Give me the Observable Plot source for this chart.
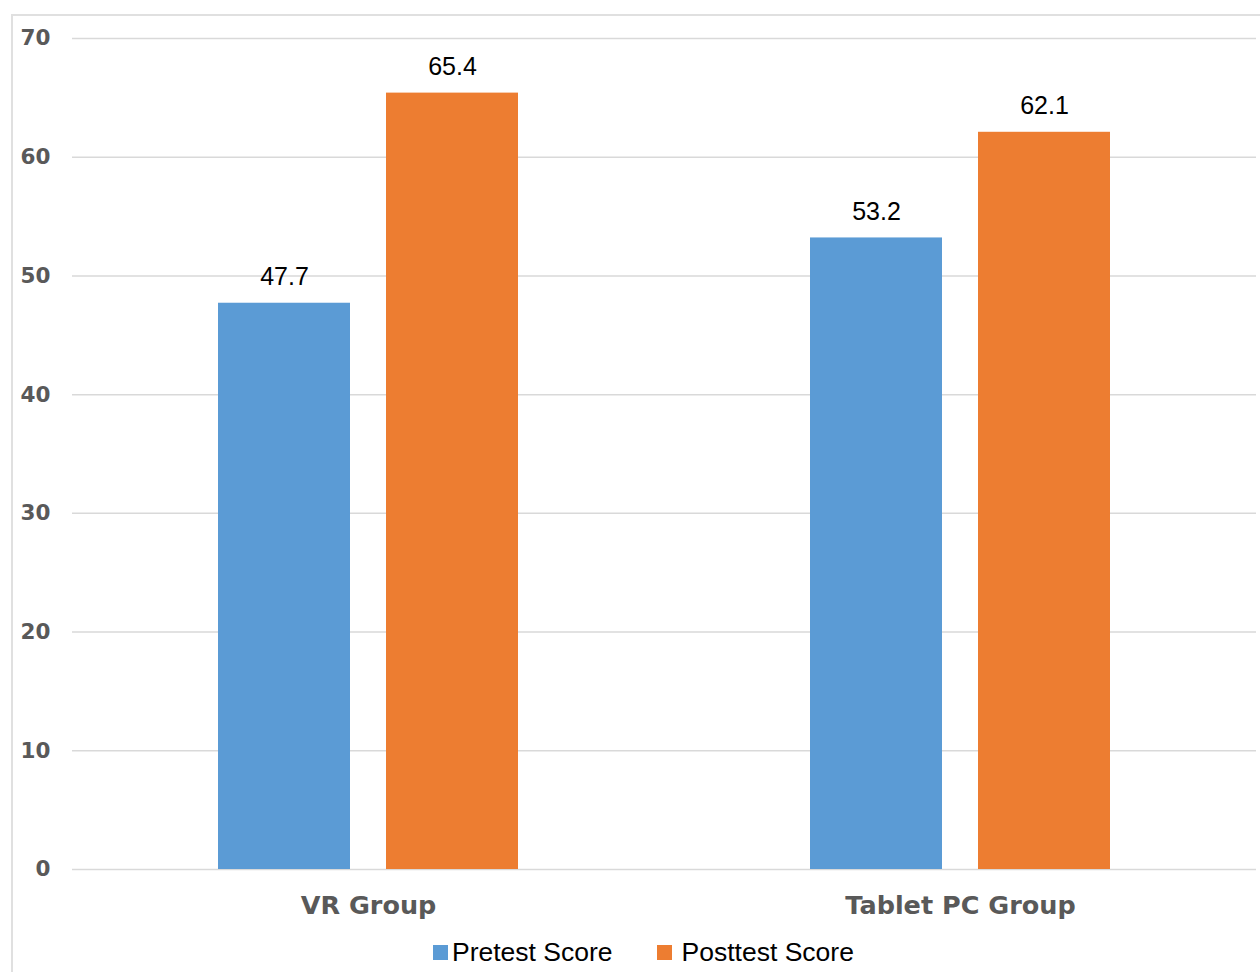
<!DOCTYPE html>
<html>
<head>
<meta charset="utf-8">
<script src="https://cdn.jsdelivr.net/npm/d3@7"></script>
<script src="https://cdn.jsdelivr.net/npm/@observablehq/plot@0.6"></script>
<style>
  html, body { margin: 0; padding: 0; background: #fff; width: 1260px; height: 972px; overflow: hidden; }
  #wrap { position: relative; width: 1260px; height: 972px; }
  #frame { position: absolute; left: 11px; top: 14px; width: 1270px; height: 980px; border-left: 2px solid #e0e0e0; border-top: 2px solid #e0e0e0; box-sizing: border-box; }
  #chart { position: absolute; left: 0; top: 0; }
  #legend { position: absolute; top: 937px; left: 433px; display: flex; align-items: center; font-family: "Liberation Sans", Arial, sans-serif; font-size: 26.5px; color: #000; }
  .sw { width: 15px; height: 15px; display: inline-block; }
  .item { display: flex; align-items: center; }
</style>
</head>
<body>
<div id="wrap">
  <div id="frame"></div>
  <div id="chart"></div>
  <div id="legend"></div>
</div>
<script>
const groups = ["VR Group", "Tablet PC Group"];
const series = ["Pretest Score", "Posttest Score"];
const pretest = [47.7, 53.2];
const posttest = [65.4, 62.1];
const colors = ["#5B9BD5", "#ED7D31"];
const yTicks = [0, 10, 20, 30, 40, 50, 60, 70];

const rows = [];
groups.forEach((g, i) => {
  rows.push({group: g, series: series[0], value: pretest[i]});
  rows.push({group: g, series: series[1], value: posttest[i]});
});

const chart = Plot.plot({
  width: 1260,
  height: 930,
  marginLeft: 72,
  marginRight: 4,
  marginTop: 38,
  marginBottom: 61,
  style: {background: "transparent", overflow: "visible"},
  fx: {domain: groups, padding: 0, label: null},
  x: {domain: series, paddingInner: 0.213, paddingOuter: 0.858, axis: null},
  y: {domain: [0, 70], ticks: yTicks, label: null},
  color: {domain: series, range: colors},
  marks: [
    Plot.ruleY(yTicks, {stroke: "#d9d9d9", strokeWidth: 1.5}),
    Plot.barY(rows, {fx: "group", x: "series", y: "value", fill: "series"}),
    Plot.text(rows, {
      fx: "group", x: "series", y: "value", text: d => d.value.toFixed(1),
      lineAnchor: "bottom", dy: -18, fill: "#000",
      fontSize: 25, fontFamily: "Liberation Sans, Arial, sans-serif"
    }),
    Plot.axisY({
      ticks: yTicks, tickSize: 0, tickPadding: 22, label: null,
      fontSize: 21.5, fontWeight: "bold", fill: "#595959",
      fontFamily: "DejaVu Sans, sans-serif"
    }),
    Plot.axisFx({
      anchor: "bottom", tickSize: 0, tickPadding: 26, label: null,
      fontSize: 25.5, fontWeight: "bold", fill: "#595959",
      fontFamily: "DejaVu Sans, sans-serif"
    })
  ]
});
document.getElementById("chart").appendChild(chart);

const legend = document.getElementById("legend");
series.forEach((s, i) => {
  const item = document.createElement("div");
  item.className = "item";
  item.style.marginRight = i === 0 ? "44px" : "0";
  const sw = document.createElement("span");
  sw.className = "sw";
  sw.style.background = colors[i];
  sw.style.marginRight = i === 0 ? "4px" : "10px";
  const t = document.createElement("span");
  t.textContent = s;
  item.appendChild(sw);
  item.appendChild(t);
  legend.appendChild(item);
});
</script>
</body>
</html>
